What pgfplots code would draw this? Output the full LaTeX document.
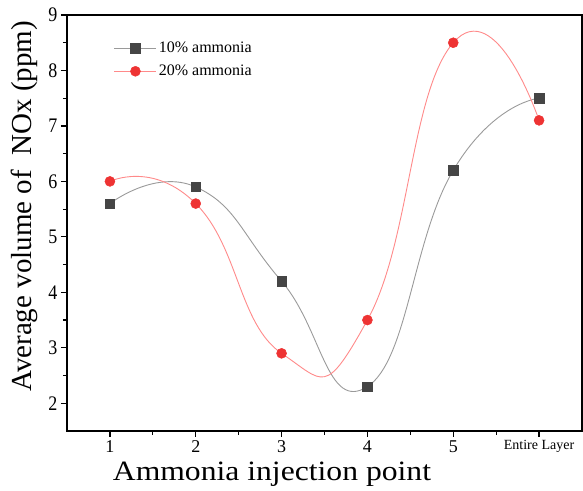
\documentclass[border=0pt]{standalone}
\usepackage{fontspec}
\setmainfont{Liberation Serif}
\usepackage{pgfplots}
\pgfplotsset{compat=1.18}

\definecolor{darkmark}{HTML}{454545}
\definecolor{greyline}{HTML}{9A9A9A}
\definecolor{redmark}{HTML}{EE3333}
\definecolor{redline}{HTML}{FF8A8A}

\begin{document}
\begin{tikzpicture}
\begin{axis}[
  scale only axis,
  width=515pt, height=416pt,
  xmin=0.5, xmax=6.5,
  ymin=1.5, ymax=9,
  xtick={1,2,3,4,5,6},
  xticklabels={1,2,3,4,5,{\fontsize{14}{14}\selectfont Entire Layer}},
  ytick={2,3,4,5,6,7,8,9},
  minor tick num=1,
  tick pos=left,
  tick align=outside,
  major tick length=6pt,
  minor tick length=4pt,
  every tick/.style={line width=1.2pt, black},
  axis line style={line width=1.4pt},
  /pgf/number format/assume math mode=true,
  xticklabel style={font=\fontsize{18}{18}\selectfont},
  yticklabel style={font=\fontsize{18}{18}\selectfont, yscale=1.15},
  xlabel={Ammonia injection point},
  ylabel={Average volume of \ NOx (ppm)},
  xlabel style={font=\fontsize{28}{28}\selectfont, xscale=1.13,
    at={(axis description cs:0.398,-0.1200)}, anchor=base},
  ylabel style={font=\fontsize{29}{29}\selectfont,
    at={(axis description cs:-0.082,0.54)}, anchor=center},
  legend style={
    at={(axis description cs:0.085,0.945)}, anchor=north west,
    draw=none, fill=none,
    font=\fontsize{16}{16}\selectfont,
    row sep=7pt,
  },
  legend cell align=left,
  legend image code/.code={
    \draw[mark repeat=2,mark phase=2,#1]
      plot coordinates {(0pt,0pt) (21pt,0pt) (42pt,0pt)};
  },
]
% 10% ammonia
\addplot[smooth, tension=0.85, greyline, line width=0.9pt,
  mark=square*, mark size=4.8pt,
  mark options={fill=darkmark, draw=darkmark, line width=0.5pt}]
  coordinates {(1,5.6) (2,5.9) (3,4.2) (4,2.3) (5,6.2) (6,7.5)};
\addlegendentry{10\% ammonia}
% 20% ammonia
\addplot[smooth, tension=0.9, redline, line width=0.9pt,
  mark=*, mark size=5pt,
  mark options={fill=redmark, draw=redmark, line width=0.5pt}]
  coordinates {(1,6.0) (2,5.6) (3,2.9) (4,3.5) (5,8.5) (6,7.1)};
\addlegendentry{20\% ammonia}
\end{axis}
\path (current axis.south west) ++(-67pt,-56pt) coordinate (bbA);
\path (current axis.north east) ++(1pt,15pt) coordinate (bbB);
\path (bbA) (bbB);
\end{tikzpicture}
\end{document}
